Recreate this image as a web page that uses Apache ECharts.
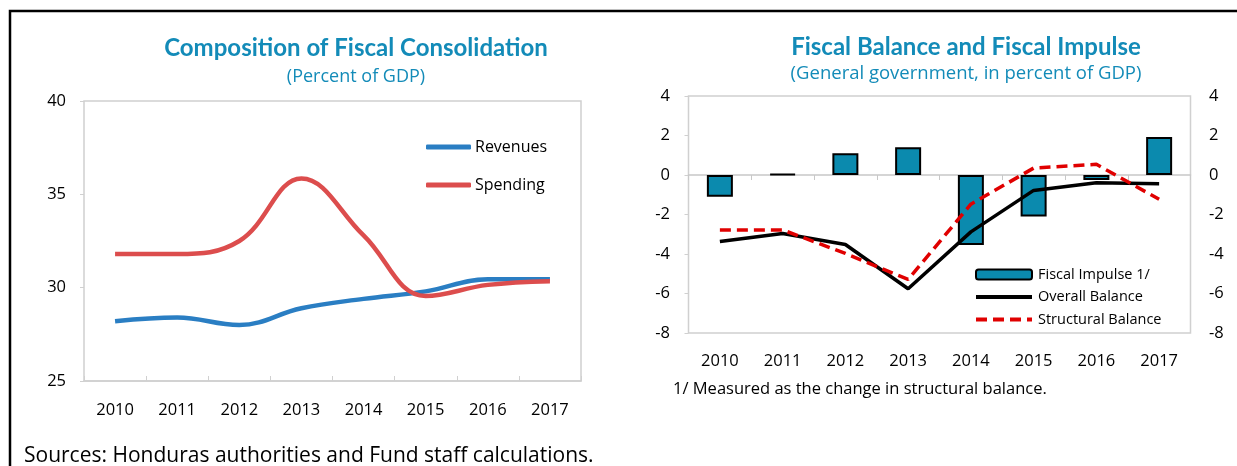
<!DOCTYPE html>
<html><head><meta charset="utf-8">
<script src="https://cdn.jsdelivr.net/npm/echarts@6/dist/echarts.min.js"></script>
<style>html,body{margin:0;padding:0;background:#fff}#c{width:1237px;height:466px}</style>
</head><body><div id="c"></div>
<script>
const years = ['2010','2011','2012','2013','2014','2015','2016','2017'];
const revenues = [28.2, 28.4, 28.0, 28.9, 29.4, 29.8, 30.45, 30.45];
const spending = [31.8, 31.8, 32.5, 35.85, 32.8, 29.55, 30.15, 30.35];
const fiscalImpulse = [-1.1, 0.05, 1.1, 1.4, -3.55, -2.1, -0.25, 1.92];
const overallBalance = [-3.37, -2.96, -3.52, -5.76, -2.88, -0.78, -0.39, -0.44];
const structuralBalance = [-2.78, -2.78, -3.97, -5.29, -1.48, 0.35, 0.54, -1.23];
const leftTicks = [25, 30, 35, 40];
const rightTicks = [-8, -6, -4, -2, 0, 2, 4];

const FONT = 'Open Sans';
const TITLE_FONT = 'Lato';
const TEAL = '#138bb8';
const chart = echarts.init(document.getElementById('c'));
const lab = {color:'#000', fontFamily:FONT, fontSize:16.5};
chart.setOption({
  animation:false,
  textStyle:{fontFamily:FONT},
  title:[
    {text:'Composition of Fiscal Consolidation', subtext:'(Percent of GDP)', left:351, textAlign:'center', top:31, itemGap:8,
     textStyle:{fontFamily:TITLE_FONT, fontWeight:'bold', fontSize:24, color:TEAL},
     subtextStyle:{fontFamily:FONT, fontSize:18, color:TEAL}},
    {text:'Fiscal Balance and Fiscal Impulse', subtext:'(General government, in percent of GDP)', left:961, textAlign:'center', top:30, itemGap:5,
     textStyle:{fontFamily:TITLE_FONT, fontWeight:'bold', fontSize:24, color:TEAL},
     subtextStyle:{fontFamily:FONT, fontSize:18.5, color:TEAL}}
  ],
  legend:[
    {left:421, top:134, orient:'vertical', itemWidth:45, itemHeight:5, itemGap:22,
     data:[{name:'Revenues', icon:'roundRect'},{name:'Spending', icon:'roundRect'}],
     textStyle:{fontFamily:FONT, fontSize:16, color:'#000', padding:[0,0,0,-1]}},
    {left:969, top:262, orient:'vertical', itemWidth:56, itemHeight:10, itemGap:7.5,
     data:[{name:'Fiscal Impulse 1/'},
           {name:'Overall Balance', itemStyle:{opacity:0}, lineStyle:{width:4}},
           {name:'Structural Balance', itemStyle:{opacity:0}, lineStyle:{width:4}}],
     textStyle:{fontFamily:FONT, fontSize:14.5, color:'#000', padding:[0,0,0,1]}}
  ],
  grid:[
    {left:84, top:101, width:497, height:280, show:true, borderColor:'#d0d0d0', borderWidth:1.5, containLabel:false},
    {left:688.5, top:96, width:502, height:237, show:true, borderColor:'#d0d0d0', borderWidth:1.5, containLabel:false}
  ],
  xAxis:[
    {gridIndex:0, type:'category', data:years, boundaryGap:true,
     axisLine:{show:true, lineStyle:{color:'#d0d0d0', width:1.5}},
     axisTick:{show:true, inside:true, length:5, lineStyle:{color:'#d0d0d0'}},
     axisLabel:Object.assign({margin:21}, lab), splitLine:{show:false}},
    {gridIndex:1, type:'category', data:years, boundaryGap:true, position:'bottom',
     axisLine:{show:false, onZero:false}, axisTick:{show:false},
     axisLabel:Object.assign({margin:20}, lab), splitLine:{show:false}},
    {gridIndex:1, type:'category', data:years, boundaryGap:true,
     axisLine:{show:true, onZero:true, onZeroAxisIndex:1, lineStyle:{color:'#c8c8c8', width:1.5}},
     axisTick:{show:true, inside:true, length:5, lineStyle:{color:'#c8c8c8'}},
     axisLabel:{show:false}, splitLine:{show:false}}
  ],
  yAxis:[
    {gridIndex:0, type:'value', min:leftTicks[0], max:leftTicks[leftTicks.length-1], interval:5,
     axisLine:{show:false}, axisTick:{show:true, length:4, lineStyle:{color:'#d0d0d0'}},
     axisLabel:Object.assign({margin:18}, lab), splitLine:{show:false}},
    {gridIndex:1, type:'value', min:rightTicks[0], max:rightTicks[rightTicks.length-1], interval:2,
     axisLine:{show:false}, axisTick:{show:true, length:4, lineStyle:{color:'#d0d0d0'}},
     axisLabel:Object.assign({margin:18.5}, lab), splitLine:{show:false}},
    {gridIndex:1, type:'value', position:'right', min:rightTicks[0], max:rightTicks[rightTicks.length-1], interval:2,
     axisLine:{show:false}, axisTick:{show:false},
     axisLabel:Object.assign({margin:18.5}, lab), splitLine:{show:false}}
  ],
  series:[
    {name:'Revenues', type:'line', xAxisIndex:0, yAxisIndex:0, data:revenues, smooth:0.4, symbol:'none',
     lineStyle:{color:'#2a7ec3', width:4.5}, itemStyle:{color:'#2a7ec3'}},
    {name:'Spending', type:'line', xAxisIndex:0, yAxisIndex:0, data:spending, smooth:0.4, symbol:'none',
     lineStyle:{color:'#dc4d4d', width:4.5}, itemStyle:{color:'#dc4d4d'}},
    {name:'Fiscal Impulse 1/', type:'bar', xAxisIndex:1, yAxisIndex:1, data:fiscalImpulse, barWidth:26,
     itemStyle:{color:'#0b8aae', borderColor:'#000', borderWidth:2}},
    {name:'Overall Balance', type:'line', xAxisIndex:1, yAxisIndex:1, data:overallBalance, symbol:'none',
     lineStyle:{color:'#000', width:3.5}, itemStyle:{color:'#000'}},
    {name:'Structural Balance', type:'line', xAxisIndex:1, yAxisIndex:1, data:structuralBalance, symbol:'none',
     lineStyle:{color:'#e00000', width:3.5, type:[11,6]}, itemStyle:{color:'#e00000'}}
  ],
  graphic:[
    {type:'polyline', shape:{points:[[10,466],[10,11],[1237,11]]}, style:{stroke:'#000', lineWidth:2.5, fill:null}},
    {type:'text', left:673, top:381, style:{text:'1/ Measured as the change in structural balance.', fontFamily:FONT, fontSize:16.5, fill:'#000'}},
    {type:'text', left:24, top:446, style:{text:'Sources: Honduras authorities and Fund staff calculations.', fontFamily:FONT, fontSize:21, fill:'#000'}}
  ]
});
</script></body></html>
